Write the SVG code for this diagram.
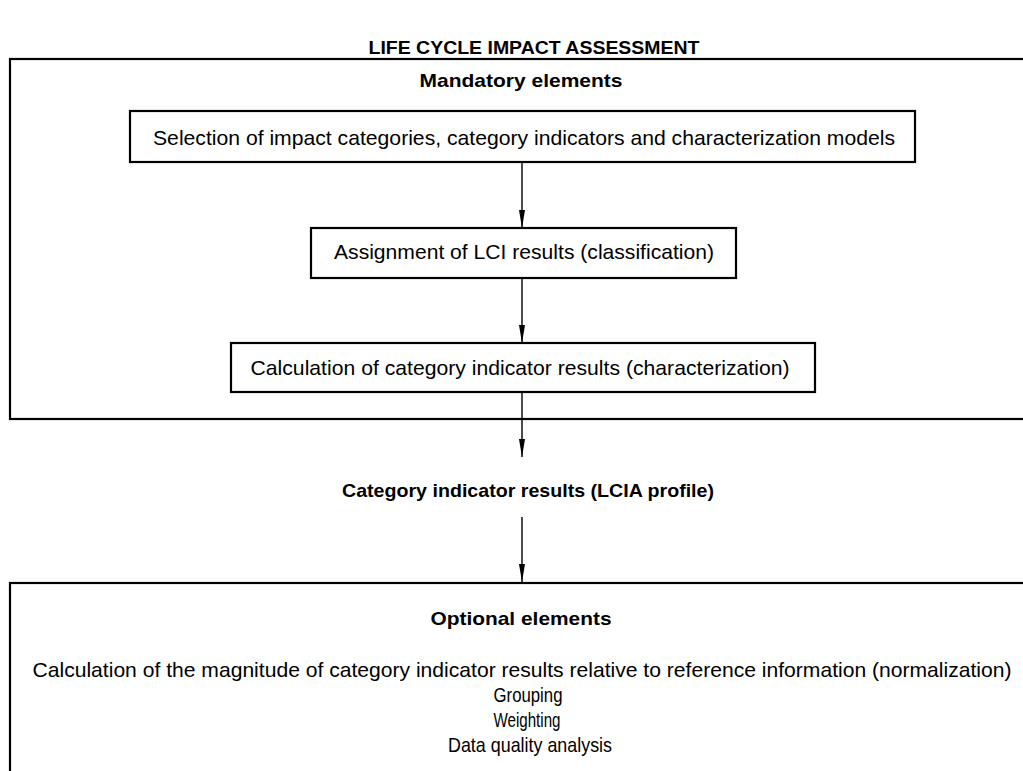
<svg xmlns="http://www.w3.org/2000/svg" width="1023" height="771" viewBox="0 0 1023 771">
<defs>
<style>
.frame{fill:none;stroke:#000;stroke-width:2.2}
.box{fill:#fff;stroke:#000;stroke-width:2.2}
.t{font-family:"Liberation Sans",Arial,sans-serif;font-size:21px;fill:#000;text-anchor:middle}
.b{font-family:"Liberation Sans",Arial,sans-serif;font-size:19px;font-weight:bold;fill:#000;text-anchor:middle}
.conn{stroke:#000;stroke-width:1.4;fill:none}
</style>
<marker id="ah" viewBox="0 0 18 6" refX="18" refY="3" markerWidth="18" markerHeight="6" markerUnits="userSpaceOnUse" orient="auto">
<path d="M0,0 L18,3 L0,6 Z" fill="#000"/>
</marker>
</defs>
<rect width="1023" height="771" fill="#fff"/>
<g id="title"><text class="b" x="534" y="54" textLength="331" lengthAdjust="spacingAndGlyphs">LIFE CYCLE IMPACT ASSESSMENT</text></g>
<g id="mandatory">
<rect class="frame" x="10" y="59" width="1030" height="360"/>
<text class="b" x="521" y="87" textLength="203" lengthAdjust="spacingAndGlyphs">Mandatory elements</text>
</g>
<g id="selection">
<rect class="box" x="130" y="111" width="785" height="51"/>
<text class="t" x="524" y="145" textLength="742" lengthAdjust="spacingAndGlyphs">Selection of impact categories, category indicators and characterization models</text>
</g>
<g id="classification">
<rect class="box" x="311" y="228" width="425" height="50"/>
<text class="t" x="524" y="259" textLength="380" lengthAdjust="spacingAndGlyphs">Assignment of LCI results (classification)</text>
</g>
<g id="characterization">
<rect class="box" x="231" y="343" width="584" height="49"/>
<text class="t" x="520" y="375" textLength="539" lengthAdjust="spacingAndGlyphs">Calculation of category indicator results (characterization)</text>
</g>
<g id="profile">
<text class="b" x="528" y="497" textLength="372" lengthAdjust="spacingAndGlyphs">Category indicator results (LCIA profile)</text>
</g>
<g id="optional">
<rect class="frame" x="10" y="583" width="1030" height="200"/>
<text class="b" x="521" y="625" textLength="181" lengthAdjust="spacingAndGlyphs">Optional elements</text>
<text class="t" x="522" y="677" textLength="979" lengthAdjust="spacingAndGlyphs">Calculation of the magnitude of category indicator results relative to reference information (normalization)</text>
<text class="t" x="528" y="702" textLength="69" lengthAdjust="spacingAndGlyphs">Grouping</text>
<text class="t" x="527" y="727" textLength="67" lengthAdjust="spacingAndGlyphs">Weighting</text>
<text class="t" x="530" y="752" textLength="164" lengthAdjust="spacingAndGlyphs">Data quality analysis</text>
</g>
<g id="connectors">
<line class="conn" x1="522" y1="162" x2="522" y2="228" marker-end="url(#ah)"/>
<line class="conn" x1="522" y1="278" x2="522" y2="343" marker-end="url(#ah)"/>
<line class="conn" x1="522" y1="392" x2="522" y2="457" marker-end="url(#ah)"/>
<line class="conn" x1="522" y1="517" x2="522" y2="582" marker-end="url(#ah)"/>
</g>
</svg>
